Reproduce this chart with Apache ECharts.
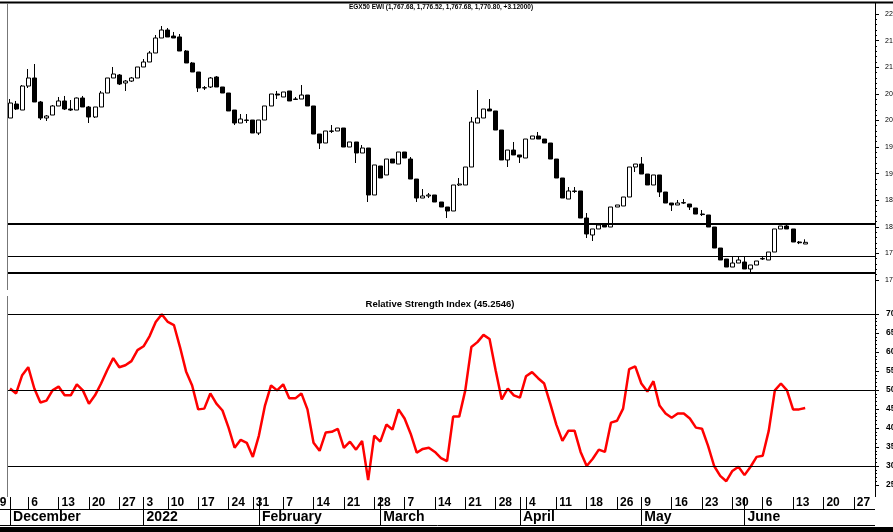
<!DOCTYPE html>
<html><head><meta charset="utf-8">
<script src="https://cdn.jsdelivr.net/npm/echarts@6/dist/echarts.min.js"></script>
<style>html,body{margin:0;padding:0;background:#fff}#c{width:893px;height:532px}</style>
</head><body><div id="c"></div>
<script>
// ---- data ----
const holidays = ['2021-12-31','2022-01-07','2022-01-27','2022-04-25','2022-05-02','2022-05-03','2022-05-04','2022-05-05','2022-05-06'];
const monthLabels = ['2022','February','March','April','May','June','July','August','September','October','November','December'];
const opens = [
2004.5,2030.8,2019.5,2064.6,2079.7,2034.6,2004.5,2010.1,2027.1,2036.5,
2021.4,2019.5,2042.1,2025.2,2006.4,2025.2,2051.5,2079.7,2085.3,2070.3,
2074.0,2079.7,2100.4,2109.8,2126.7,2154.9,2169.9,2158.6,2156.8,2130.4,
2107.9,2091.0,2060.9,2062.8,2081.6,2062.8,2051.5,2019.5,1995.1,2000.7,
2000.7,1976.3,2000.7,2027.1,2049.6,2044.0,2055.3,2040.2,2040.2,2047.7,
2027.1,1974.4,1957.5,1980.1,1980.1,1985.7,1950.0,1959.4,1938.7,1948.1,
1859.8,1914.3,1897.4,1927.4,1918.0,1940.6,1927.4,1889.8,1854.1,1857.9,
1859.8,1846.6,1837.2,1829.7,1878.6,1878.6,1912.4,1995.1,2004.5,2021.4,
2017.7,1981.9,1925.6,1944.3,1935.0,1929.3,1965.0,1970.7,1965.0,1957.5,
1927.4,1891.7,1852.2,1867.3,1867.3,1816.5,1784.6,1795.9,1805.3,1799.6,
1837.2,1839.1,1856.0,1912.4,1918.0,1899.2,1878.6,1897.4,1865.4,1844.7,
1841.0,1844.7,1842.8,1835.3,1824.0,1822.2,1799.6,1760.1,1739.5,1724.4,
1731.9,1733.8,1720.7,1728.2,1739.5,1737.6,1752.6,1795.9,1801.5,1795.9,
1771.4,1767.68];
const closes = [
2032.7,2021.4,2064.6,2079.7,2034.6,2004.5,2008.3,2027.1,2036.5,2021.4,
2019.5,2042.1,2025.2,2006.4,2025.2,2051.5,2079.7,2087.2,2068.4,2074.0,
2079.7,2100.4,2109.8,2126.7,2154.9,2169.9,2156.8,2154.9,2130.4,2107.9,
2091.0,2060.9,2061.5,2079.7,2062.8,2051.5,2017.7,1995.1,2002.6,2000.0,
1976.3,2000.7,2027.1,2049.6,2047.7,2053.4,2036.5,2039.5,2047.7,2027.1,
1974.4,1957.5,1980.1,1979.5,1985.7,1950.0,1959.4,1938.7,1948.1,1859.8,
1916.2,1891.7,1927.4,1919.9,1940.6,1929.3,1889.8,1854.1,1857.9,1859.8,
1846.6,1837.2,1829.7,1878.6,1880.4,1912.4,1997.0,2004.5,2021.4,2017.7,
1981.9,1925.6,1944.3,1935.0,1931.2,1965.0,1970.7,1965.0,1957.5,1927.4,
1891.7,1854.1,1867.3,1866.5,1816.5,1786.5,1795.9,1803.4,1799.6,1837.2,
1841.0,1856.0,1912.4,1918.0,1899.2,1878.6,1897.4,1865.4,1844.7,1841.0,
1844.7,1845.5,1837.2,1824.0,1823.0,1799.6,1760.1,1737.6,1724.4,1731.9,
1737.6,1720.7,1728.2,1735.7,1740.5,1752.6,1795.9,1801.5,1795.9,1771.4,
1770.0,1770.80];
const lows = [
2004.5,2019.5,2019.5,2060.9,2034.6,2000.7,1998.9,2010.1,2027.1,2019.5,
2017.7,2019.5,2025.2,1995.1,2004.5,2025.2,2051.5,2079.7,2066.5,2055.3,
2072.2,2079.7,2100.4,2109.8,2126.7,2154.9,2156.8,2154.9,2130.4,2107.9,
2091.0,2053.4,2057.1,2060.9,2062.8,2051.5,2017.7,1991.3,1995.1,1995.1,
1976.3,1972.5,2000.7,2027.1,2040.2,2044.0,2036.5,2038.3,2040.2,2027.1,
1974.4,1946.2,1957.5,1976.3,1980.1,1950.0,1950.0,1919.9,1938.7,1846.6,
1859.8,1891.7,1897.4,1919.9,1918.0,1929.3,1889.8,1846.6,1854.1,1854.1,
1846.6,1837.2,1816.5,1829.7,1876.7,1878.6,1912.4,1995.1,2004.5,2017.7,
1981.9,1925.6,1912.4,1935.0,1919.9,1929.3,1965.0,1965.0,1957.5,1927.4,
1891.7,1854.1,1852.2,1863.5,1816.5,1778.9,1773.3,1795.9,1799.6,1799.6,
1837.2,1839.1,1856.0,1903.0,1899.2,1878.6,1878.6,1856.0,1844.7,1829.7,
1841.0,1842.8,1831.6,1824.0,1820.3,1799.6,1760.1,1737.6,1724.4,1724.4,
1731.9,1720.7,1713.1,1728.2,1737.6,1737.6,1752.6,1795.9,1795.9,1771.4,
1767.5,1767.68];
const highs = [
2040.2,2036.5,2066.5,2096.6,2106.0,2036.5,2010.1,2028.9,2044.0,2045.9,
2038.3,2043.0,2045.9,2027.1,2025.2,2055.3,2079.7,2100.4,2087.2,2075.9,
2081.6,2100.4,2115.4,2130.4,2160.5,2177.4,2173.7,2166.2,2162.4,2132.3,
2109.8,2091.0,2064.6,2081.6,2083.4,2062.8,2051.5,2019.5,2012.0,2012.0,
2000.7,2000.7,2027.1,2049.6,2055.3,2053.4,2055.3,2044.0,2066.5,2047.7,
2027.1,1974.4,1980.1,1991.3,1985.7,1985.7,1959.4,1959.4,1953.7,1948.1,
1916.2,1914.3,1927.4,1927.4,1940.6,1940.6,1931.2,1889.8,1871.0,1863.5,
1859.8,1846.6,1837.2,1878.6,1891.7,1912.4,2006.4,2057.1,2021.4,2040.2,
2017.7,1981.9,1944.3,1959.4,1935.0,1965.0,1970.7,1978.2,1965.0,1957.5,
1927.4,1891.7,1874.8,1874.8,1867.3,1825.9,1795.9,1803.4,1805.3,1837.2,
1841.0,1856.0,1912.4,1918.0,1931.2,1899.2,1897.4,1897.4,1865.4,1844.7,
1850.4,1852.2,1842.8,1835.3,1831.6,1822.2,1799.6,1760.1,1739.5,1743.2,
1745.1,1745.1,1728.2,1735.7,1743.2,1752.6,1795.9,1801.5,1805.3,1795.9,
1773.3,1776.52];
const rsi = [
50.4,49.1,53.9,56.0,50.4,46.7,47.2,49.9,50.9,48.6,
48.6,51.5,49.9,46.4,48.6,51.7,55.2,58.4,56.0,56.5,
57.6,60.5,61.5,64.2,67.9,69.9,67.9,67.1,61.3,54.9,
51.2,44.9,45.1,49.1,46.4,44.6,40.1,34.8,36.9,36.1,
32.4,38.0,45.9,51.2,49.9,51.5,47.8,47.8,49.1,44.9,
36.1,34.0,38.8,39.0,39.8,34.8,36.4,34.3,36.6,26.3,
38.0,36.4,40.9,39.6,44.9,42.5,38.5,33.5,34.5,34.8,
33.7,32.1,31.3,43.0,43.0,49.9,61.3,62.6,64.5,63.4,
55.2,47.5,50.4,48.6,48.0,53.6,54.7,53.1,51.7,46.4,
40.9,36.6,39.3,39.3,33.7,30.0,31.9,34.3,33.7,41.4,
41.9,45.1,55.5,56.2,51.7,49.6,52.3,45.9,43.8,42.7,
43.8,43.8,42.5,40.1,39.8,35.3,30.0,27.4,26.0,28.7,
29.8,27.6,29.8,32.4,32.7,39.3,49.9,51.7,49.9,44.9,
44.9,45.25];
const priceLevels = [1806, 1744, 1713];
const rsiLevels = [70, 50, 30];
const titleText = 'EGX50 EWI (1,767.68, 1,776.52, 1,767.68, 1,770.80, +3.12000)';
const rsiTitle = 'Relative Strength Index (45.2546)';

// ---- categories: trading days ----
const dates = [];
(function () {
  let t = Date.UTC(2021, 11, 1);
  const end = Date.UTC(2022, 5, 30);
  while (t <= end) {
    const d = new Date(t), wd = d.getUTCDay(), s = d.toISOString().slice(0, 10);
    if (wd > 0 && wd < 6 && holidays.indexOf(s) < 0) dates.push(s);
    t += 86400000;
  }
})();
const weekStart = i => i > 0 && new Date(dates[i]).getUTCDay() <= new Date(dates[i - 1]).getUTCDay();
const monthStart = i => i === 0 || dates[i].slice(5, 7) !== dates[i - 1].slice(5, 7);
const candleData = opens.map((o, i) => [o, closes[i], lows[i], highs[i]]);

const FONT = 'Liberation Sans, Arial, sans-serif';
const chart = echarts.init(document.getElementById('c'), null, { renderer: 'canvas' });
const line = (x1, y1, x2, y2, w, c) => ({ type: 'line', silent: true, z: 10,
  shape: { x1, y1, x2, y2 }, style: { stroke: c || '#000', lineWidth: w || 1 } });

chart.setOption({
  animation: false,
  backgroundColor: '#fff',
  grid: [
    { left: 7, right: 18, top: 14, height: 266, containLabel: false, outerBoundsMode: 'none' },
    { left: 7, right: 18, top: 314, height: 171, containLabel: false, outerBoundsMode: 'none' }
  ],
  xAxis: [
    { type: 'category', gridIndex: 0, data: dates, show: false, boundaryGap: true },
    { type: 'category', gridIndex: 1, data: dates, position: 'bottom', offset: 12, boundaryGap: true,
      axisLine: { show: false },
      axisTick: { show: true, alignWithLabel: true, length: 12, interval: i => weekStart(i) || monthStart(i),
        lineStyle: { color: '#000', width: 1 } },
      axisLabel: { interval: i => weekStart(i), formatter: v => String(+v.slice(8)), align: 'left',
        padding: [0, 0, 0, 3], margin: 0, fontSize: 12, fontWeight: 'bold', color: '#000', fontFamily: FONT },
      splitLine: { show: false } },
    { type: 'category', gridIndex: 1, data: dates, position: 'bottom', offset: 24, boundaryGap: true,
      axisLine: { show: false },
      axisTick: { show: true, alignWithLabel: true, length: 16, interval: i => monthStart(i),
        lineStyle: { color: '#000', width: 1 } },
      axisLabel: { interval: i => monthStart(i), formatter: v => monthLabels[+v.slice(5, 7) - 1],
        align: 'left', padding: [0, 0, 0, 3], margin: 1, fontSize: 14, fontWeight: 'bold', color: '#000', fontFamily: FONT },
      splitLine: { show: false } }
  ],
  yAxis: [
    { type: 'value', gridIndex: 0, position: 'right', min: 1700, max: 2200, interval: 50,
      axisLine: { show: true, lineStyle: { color: '#000', width: 1 } },
      axisTick: { show: true, length: 4, lineStyle: { color: '#000' } },
      minorTick: { show: true, splitNumber: 5, length: 2, lineStyle: { color: '#000' } },
      axisLabel: { margin: 10, fontSize: 7, color: '#000', fontFamily: FONT, formatter: v => String(v) },
      splitLine: { show: false }, minorSplitLine: { show: false } },
    { type: 'value', gridIndex: 1, position: 'right', min: 25, max: 70, interval: 5,
      axisLine: { show: true, lineStyle: { color: '#000', width: 1 } },
      axisTick: { show: true, length: 4, lineStyle: { color: '#000' } },
      minorTick: { show: true, splitNumber: 5, length: 2, lineStyle: { color: '#000' } },
      axisLabel: { margin: 11, fontSize: 8.5, fontWeight: 'bold', color: '#000', fontFamily: FONT, formatter: v => String(v) },
      splitLine: { show: false }, minorSplitLine: { show: false } }
  ],
  series: [
    { type: 'candlestick', xAxisIndex: 0, yAxisIndex: 0, data: candleData, barWidth: 4.5,
      itemStyle: { color: '#fff', color0: '#000', borderColor: '#000', borderColor0: '#000',
        borderColorDoji: '#000', borderWidth: 1 },
      markLine: { silent: true, symbol: ['none', 'none'], label: { show: false },
        data: priceLevels.map((v, k) => ({ yAxis: v, lineStyle: { color: '#000', type: 'solid', width: k === 1 ? 1.2 : 2 } })) } },
    { type: 'line', xAxisIndex: 1, yAxisIndex: 1, data: rsi, showSymbol: false, symbol: 'none',
      lineStyle: { color: '#ff0000', width: 2.5 }, itemStyle: { color: '#ff0000' },
      markLine: { silent: true, symbol: ['none', 'none'], label: { show: false },
        data: rsiLevels.map(v => ({ yAxis: v, lineStyle: { color: '#000', type: 'solid', width: 1.2 } })) } }
  ],
  graphic: [
    line(0, 2.5, 893, 2.5, 2),
    line(875.5, 3, 875.5, 497),
    line(7.5, 3, 7.5, 290, 1, '#777'),
    line(7.5, 296, 7.5, 497, 1, '#777'),
    line(0, 509.5, 875, 509.5),
    line(0, 525.5, 875, 525.5),
    { type: 'rect', silent: true, shape: { x: 0, y: 527, width: 893, height: 5 }, style: { fill: '#000' } },
    { type: 'text', silent: true, style: { text: titleText, x: 441, y: 7, align: 'center', verticalAlign: 'middle',
      font: 'bold 6.5px ' + FONT, fill: '#000' } },
    { type: 'text', silent: true, style: { text: rsiTitle, x: 440, y: 304, align: 'center', verticalAlign: 'middle',
      font: 'bold 9.5px ' + FONT, fill: '#000' } },
    { type: 'text', silent: true, style: { text: '29', x: -7, y: 497, align: 'left', verticalAlign: 'top',
      font: 'bold 12px ' + FONT, fill: '#000' } }
  ]
});
</script>
</body></html>
